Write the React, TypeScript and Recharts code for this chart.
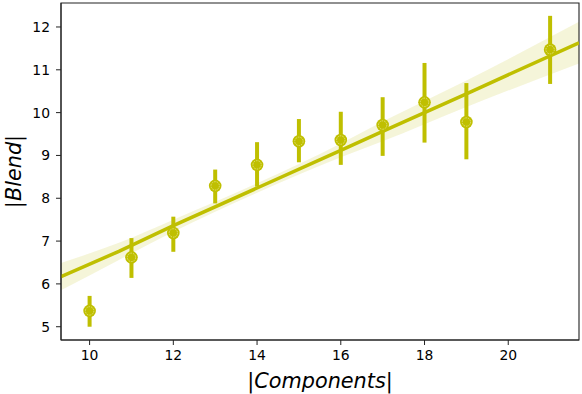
import {
  ComposedChart,
  Area,
  Line,
  Scatter,
  ErrorBar,
  XAxis,
  YAxis,
  ReferenceArea,
} from "recharts";

// mean |Blend| per |Components| with its confidence interval
const components = [10, 11, 12, 13, 14, 15, 16, 17, 18, 19, 21];
const blendMean = [5.37, 6.62, 7.19, 8.29, 8.78, 9.33, 9.36, 9.71, 10.24, 9.78, 11.47];
const ciLow = [5.0, 6.14, 6.75, 7.88, 8.27, 8.84, 8.78, 8.99, 9.3, 8.91, 10.67];
const ciHigh = [5.72, 7.07, 7.57, 8.67, 9.31, 9.85, 10.02, 10.36, 11.16, 10.69, 12.26];

// regression line and its band, read along the axis
const fitX = [9.317, 10.7, 12, 14, 16, 17, 19, 21.69];
const fitY = [6.17, 6.76, 7.36, 8.24, 9.12, 9.56, 10.44, 11.63];
const bandLow = [5.85, 6.56, 7.22, 8.13, 8.96, 9.33, 10.13, 11.15];
const bandHigh = [6.49, 6.96, 7.5, 8.35, 9.28, 9.79, 10.75, 12.12];

const xTicks = [10, 12, 14, 16, 18, 20];
const yTicks = [5, 6, 7, 8, 9, 10, 11, 12];

const X_DOMAIN = [9.317, 21.69];
const Y_DOMAIN = [4.69, 12.56];

const COLOR = "#bfbf00";
const FONT = "'DejaVu Sans', sans-serif";

const points = components.map((x, i) => ({
  x,
  y: blendMean[i],
  err: [blendMean[i] - ciLow[i], ciHigh[i] - blendMean[i]],
}));

const band = fitX.map((x, i) => ({
  x,
  fit: fitY[i],
  range: [bandLow[i], bandHigh[i]],
}));

const Marker = (props: any) => {
  const { cx, cy } = props;
  if (cx == null || cy == null) return null;
  return (
    <g>
      <circle cx={cx} cy={cy} r={6.3} fill={COLOR} />
      <circle
        cx={cx}
        cy={cy}
        r={4.2}
        fill="none"
        stroke="#e4e48c"
        strokeWidth={0.8}
        strokeDasharray="1.6 1"
      />
    </g>
  );
};

const XLabel = (props: any) => {
  const vb = props.viewBox || { x: 61, y: 340, width: 518 };
  return (
    <text
      x={vb.x + vb.width / 2}
      y={vb.y + 48}
      textAnchor="middle"
      fontFamily={FONT}
      fontSize={20.8}
      fill="#000"
    >
      <tspan>|</tspan>
      <tspan fontStyle="italic">Components</tspan>
      <tspan>|</tspan>
    </text>
  );
};

const YLabel = (props: any) => {
  const vb = props.viewBox || { x: 0, y: 3, height: 337 };
  const cy = vb.y + vb.height / 2;
  return (
    <text
      x={20.5}
      y={cy}
      transform={`rotate(-90 20.5 ${cy})`}
      textAnchor="middle"
      fontFamily={FONT}
      fontSize={20.8}
      fill="#000"
    >
      <tspan>|</tspan>
      <tspan fontStyle="italic">Blend</tspan>
      <tspan>|</tspan>
    </text>
  );
};

export default function App() {
  const tickStyle = { fontFamily: FONT, fontSize: 13.9, fill: "#000" };
  return (
    <div style={{ position: "absolute", left: 0, top: 0, background: "#fff" }}>
      <ComposedChart
        width={582}
        height={394}
        data={band}
        margin={{ top: 3, right: 3, left: 0, bottom: 0 }}
      >
        <XAxis
          dataKey="x"
          type="number"
          domain={X_DOMAIN}
          allowDataOverflow
          ticks={xTicks}
          height={54}
          tick={tickStyle}
          tickSize={5}
          tickMargin={5}
          stroke="#222"
          tickLine={{ stroke: "#222" }}
          label={<XLabel />}
        />
        <YAxis
          type="number"
          domain={Y_DOMAIN}
          allowDataOverflow
          ticks={yTicks}
          width={61}
          tick={tickStyle}
          tickSize={5}
          tickMargin={6}
          stroke="#222"
          tickLine={{ stroke: "#222" }}
          label={<YLabel />}
        />
        <Area
          dataKey="range"
          type="monotone"
          stroke="none"
          fill={COLOR}
          fillOpacity={0.15}
          isAnimationActive={false}
        />
        <Line
          dataKey="fit"
          type="linear"
          stroke={COLOR}
          strokeWidth={3.5}
          dot={false}
          activeDot={false}
          isAnimationActive={false}
        />
        <Scatter
          data={points}
          dataKey="y"
          shape={<Marker />}
          isAnimationActive={false}
        >
          <ErrorBar
            dataKey="err"
            direction="y"
            width={0}
            stroke={COLOR}
            strokeWidth={4}
            isAnimationActive={false}
          />
        </Scatter>
        <ReferenceArea
          x1={X_DOMAIN[0]}
          x2={X_DOMAIN[1]}
          y1={Y_DOMAIN[0]}
          y2={Y_DOMAIN[1]}
          fill="none"
          stroke="#222"
          strokeWidth={1.1}
          ifOverflow="visible"
        />
      </ComposedChart>
    </div>
  );
}
